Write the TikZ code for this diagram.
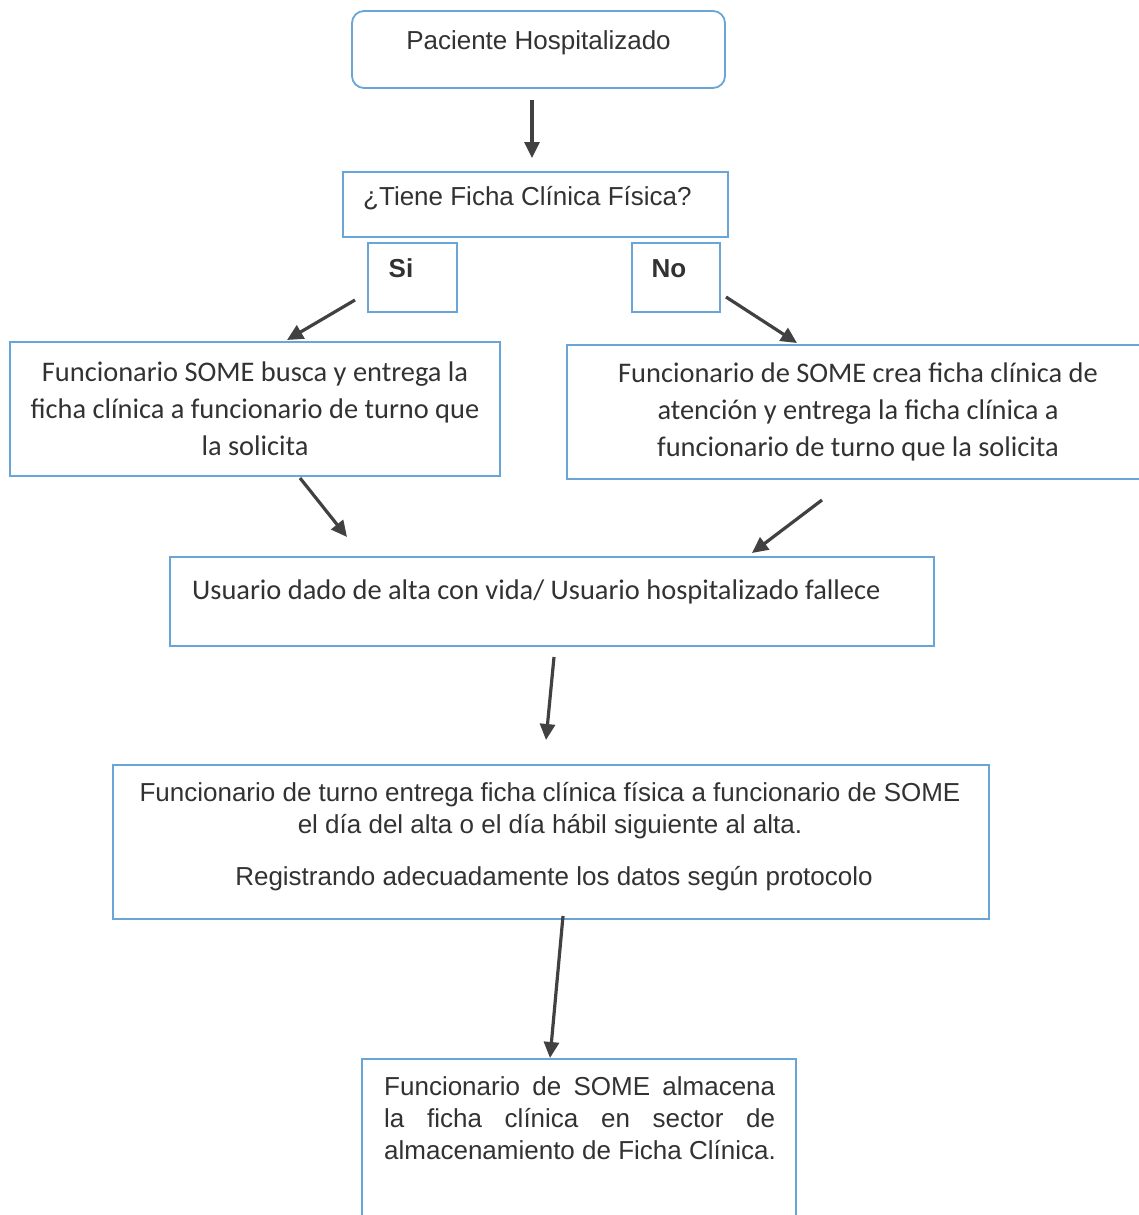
\documentclass[tikz,border=0pt]{standalone}
\usepackage{fontspec}
\setmainfont{Liberation Sans}
\newfontfamily\calibrifont{Carlito}
\usetikzlibrary{arrows.meta}
\definecolor{boxblue}{RGB}{105,165,215}
\definecolor{arrowgray}{RGB}{65,65,65}
\definecolor{txtgray}{RGB}{50,50,50}
\tikzset{
  box/.style={draw=boxblue, line width=1.8pt, fill=none, inner sep=0pt},
  rbox/.style={box, rounded corners=12pt},
  arial/.style={font=\fontsize{26}{32}\selectfont, text=txtgray, inner sep=0pt},
  calib/.style={font=\calibrifont\fontsize{28.4}{37}\selectfont, text=txtgray, inner sep=0pt, align=center},
  flow/.style={draw=arrowgray, line width=3.2pt, -{Triangle[length=16pt,width=15pt]}},
}
\begin{document}
\begin{tikzpicture}[x=1pt,y=-1pt]
\clip (0,0) rectangle (1139,1215);
\fill[white] (0,0) rectangle (1139,1215);

% boxes
\node[rbox, minimum width=373pt, minimum height=77pt] (b1) at (538.5,49.5) {};
\node[arial, anchor=base] (t1) at (538.5,49) {Paciente Hospitalizado};

\node[box, minimum width=385pt, minimum height=65pt] (b2) at (535.5,204.5) {};
\node[arial, anchor=base west] (t2) at (363,205) {¿Tiene Ficha Clínica Física?};

\node[box, minimum width=89pt, minimum height=69pt] (bsi) at (412.5,277.5) {};
\node[arial, font=\fontsize{26}{32}\selectfont\bfseries, anchor=base] (tsi) at (401,277) {Si};

\node[box, minimum width=88pt, minimum height=69pt] (bno) at (676,277.5) {};
\node[arial, font=\fontsize{26}{32}\selectfont\bfseries, anchor=base] (tno) at (669,277) {No};

\node[box, minimum width=490pt, minimum height=134pt] (bl) at (255,409) {};
\node[calib] (tl) at (255,409) {Funcionario SOME busca y entrega la\\ficha clínica a funcionario de turno que\\la solicita};

\node[box, minimum width=578pt, minimum height=134pt] (br) at (856,412) {};
\node[calib] (tr) at (858,412) {Funcionario de SOME crea ficha clínica de\\atención y entrega la ficha clínica a\\funcionario de turno que la solicita};

\node[box, minimum width=764pt, minimum height=89pt] (bu) at (552,601.5) {};
\node[calib, anchor=base west] (tu) at (192,599) {Usuario dado de alta con vida/ Usuario hospitalizado fallece};

\node[box, minimum width=876pt, minimum height=154pt] (bm) at (551,842) {};
\node[arial, anchor=base] (tm1) at (550,801) {Funcionario de turno entrega ficha clínica física a funcionario de SOME};
\node[arial, anchor=base] (tm2) at (550,833) {el día del alta o el día hábil siguiente al alta.};
\node[arial, anchor=base] (tm3) at (554,885) {Registrando adecuadamente los datos según protocolo};

\node[box, minimum width=434pt, minimum height=171pt] (bb) at (579,1144.5) {};
\node[arial, anchor=base west] (tb1) at (384,1095) {\makebox[391pt][s]{Funcionario de SOME almacena}};
\node[arial, anchor=base west] (tb2) at (384,1127) {\makebox[391pt][s]{la ficha clínica en sector de}};
\node[arial, anchor=base west] (tb3) at (384,1159) {almacenamiento de Ficha Clínica.};

% connector end points
\coordinate (a1s) at (532,100);  \coordinate (a1e) at (532,158);
\coordinate (asis) at (355,300); \coordinate (asie) at (287,340);
\coordinate (anos) at (726,297); \coordinate (anoe) at (797,343);
\coordinate (als) at (300,478);  \coordinate (ale) at (347,537);
\coordinate (ars) at (822,500);  \coordinate (are) at (752,553);
\coordinate (aus) at (554,657);  \coordinate (aue) at (546,740);
\coordinate (ams) at (563,916);  \coordinate (ame) at (550,1058);

\draw[flow] (a1s) -- (a1e);
\draw[flow] (asis) -- (asie);
\draw[flow] (anos) -- (anoe);
\draw[flow] (als) -- (ale);
\draw[flow] (ars) -- (are);
\draw[flow] (aus) -- (aue);
\draw[flow] (ams) -- (ame);
\end{tikzpicture}
\end{document}
